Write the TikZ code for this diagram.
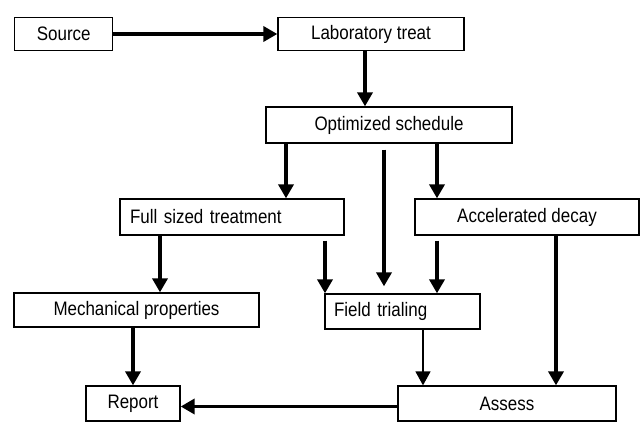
\documentclass[tikz,border=0pt]{standalone}
\usepackage{fontspec}
\setmainfont{Liberation Sans}[FakeStretch=0.87]
\usetikzlibrary{arrows.meta,calc}
\begin{document}
\begin{tikzpicture}[x=1pt,y=-1pt,
  box/.style={draw,line width=1.3pt,rectangle,inner sep=0pt,font=\fontsize{19.5}{23}\selectfont},
  lbox/.style={box,align=left},
  arr/.style={line width=3.5pt,-{Triangle[length=14pt,width=15pt]}},
  thinarr/.style={line width=1.5pt,-{Triangle[length=14pt,width=15pt]}}]
\useasboundingbox (0,0) rectangle (643,429);
% nodes
\node[box,minimum width=98pt,minimum height=33.5pt] (src) at (63.75,34) {Source};
\node[box,minimum width=186pt,minimum height=33.5pt] (lab) at (371,34) {Laboratory treat};
\node[box,minimum width=246pt,minimum height=36pt] (opt) at (389,125) {Optimized schedule};
\node[lbox,minimum width=224pt,minimum height=36pt,text width=204pt] (full) at (232,217) {Full sized treatment};
\node[box,minimum width=224pt,minimum height=36pt] (acc) at (527,217) {Accelerated decay};
\node[box,minimum width=245pt,minimum height=34pt] (mech) at (136.5,310) {Mechanical properties};
\node[lbox,minimum width=155pt,minimum height=35pt,text width=137pt] (field) at (402.5,311.5) {Field trialing};
\node[box,minimum width=94pt,minimum height=35pt] (rep) at (133,403.5) {Report};
\node[box,minimum width=218pt,minimum height=35pt] (ass) at (507,403.5) {Assess};
% helper coordinates
\coordinate (midtop) at ($(opt.south)+(-5,6)$);
\coordinate (midbot) at ($(field.north)+(-18.5,-7)$);
\coordinate (lftop) at ($(full.south)+(93,5)$);
\coordinate (rftop) at ($(acc.north |- full.south)+(-90,5)$);
% connectors
\draw[arr] (src.east) -- (lab.west);
\draw[arr] ([xshift=-6pt]lab.south) -- ([xshift=-6pt]lab.south |- opt.north);
\draw[arr] ([xshift=-103pt]opt.south) -- ([xshift=-103pt]opt.south |- full.north);
\draw[arr] ([xshift=48pt]opt.south) -- ([xshift=48pt]opt.south |- acc.north);
\draw[arr] (midtop) -- (midbot);
\draw[arr] ([xshift=-72pt]full.south) -- ([xshift=-72pt]full.south |- mech.north);
\draw[arr] (lftop) -- (lftop |- field.north);
\draw[arr] (rftop) -- (rftop |- field.north);
\draw[arr] ([xshift=29pt]acc.south) -- ([xshift=29pt]acc.south |- ass.north);
\draw[thinarr] ([xshift=20.5pt]field.south) -- ([xshift=20.5pt]field.south |- ass.north);
\draw[arr] (mech.south -| rep.north) -- (rep.north);
\draw[arr] ([yshift=-3pt]ass.west) -- ([yshift=-3pt]ass.west -| rep.east);
\end{tikzpicture}
\end{document}
